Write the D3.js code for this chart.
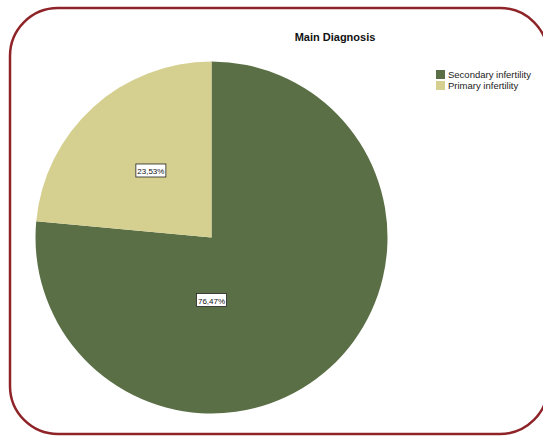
<!DOCTYPE html>
<html>
<head>
<meta charset="utf-8">
<script src="https://cdn.jsdelivr.net/npm/d3@7"></script>
<style>
  body { margin: 0; background: #fff; }
  svg { display: block; }
</style>
</head>
<body>
<div id="chart"></div>
<script>
// data
const categories = ["Secondary infertility", "Primary infertility"];
const percents = [76.47, 23.53];
const labels = ["76,47%", "23,53%"];
const colors = ["#5b6f46", "#d5d08f"];

const width = 543, height = 436;

const svg = d3.select("#chart").append("svg")
    .attr("width", width)
    .attr("height", height);

// rounded frame (right side runs past the window edge)
svg.append("rect")
    .attr("x", 10)
    .attr("y", 8)
    .attr("width", 538)
    .attr("height", 426)
    .attr("rx", 48)
    .attr("ry", 48)
    .attr("fill", "none")
    .attr("stroke", "#8e2328")
    .attr("stroke-width", 2.5);

// title
svg.append("text")
    .attr("x", 335)
    .attr("y", 41)
    .attr("text-anchor", "middle")
    .attr("font-family", "Liberation Sans, Arial, sans-serif")
    .attr("font-size", "11px")
    .attr("font-weight", "bold")
    .attr("fill", "#111")
    .text("Main Diagnosis");

const cx = 211.5, cy = 237.5, radius = 176;

const pie = d3.pie().sort(null).value(d => d.value);
const data = categories.map((c, i) => ({ name: c, value: percents[i], label: labels[i], color: colors[i] }));
const arcs = pie(data);

const arc = d3.arc().innerRadius(0).outerRadius(radius);

const g = svg.append("g")
    .attr("transform", `translate(${cx},${cy})`);

g.selectAll("path")
    .data(arcs)
    .enter()
    .append("path")
    .attr("d", arc)
    .attr("fill", d => d.data.color);

// label positions: small slice at its centroid, big slice straight down (as SPSS places it)
const labelPos = d => {
    if (d.data.name === "Primary infertility") {
        return d3.arc().innerRadius(0).outerRadius(180).centroid(d);
    }
    return [0, 63];
};

const lab = g.selectAll(".lab")
    .data(arcs)
    .enter()
    .append("g")
    .attr("class", "lab")
    .attr("transform", d => `translate(${labelPos(d)})`);

lab.append("rect")
    .attr("x", -15)
    .attr("y", -7)
    .attr("width", 30)
    .attr("height", 13)
    .attr("fill", "#fff")
    .attr("stroke", "#222")
    .attr("stroke-width", 0.8);

lab.append("text")
    .attr("text-anchor", "middle")
    .attr("y", 3)
    .attr("font-family", "Liberation Sans Narrow, Liberation Sans, Arial, sans-serif")
    .attr("font-size", "8px")
    .attr("fill", "#111")
    .text(d => d.data.label);

// legend
const legend = svg.append("g")
    .attr("transform", "translate(436,70)");

const item = legend.selectAll(".item")
    .data(data)
    .enter()
    .append("g")
    .attr("transform", (d, i) => `translate(0,${i * 11})`);

item.append("rect")
    .attr("width", 9)
    .attr("height", 9)
    .attr("fill", d => d.color);

item.append("text")
    .attr("x", 12)
    .attr("y", 8)
    .attr("font-family", "Liberation Sans Narrow, Liberation Sans, Arial, sans-serif")
    .attr("font-size", "9.5px")
    .attr("fill", "#222")
    .text(d => d.name);
</script>
</body>
</html>
